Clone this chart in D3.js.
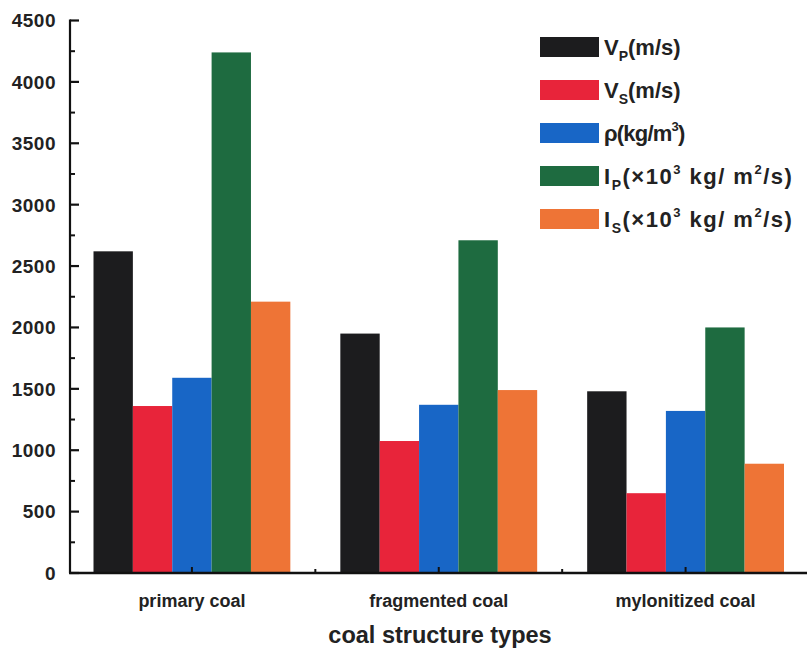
<!DOCTYPE html>
<html>
<head>
<meta charset="utf-8">
<script src="https://cdn.jsdelivr.net/npm/d3@7"></script>
<style>
  html, body { margin: 0; padding: 0; background: #fff; }
  svg { display: block; font-family: "Liberation Sans", Arial, Helvetica, sans-serif; }
</style>
</head>
<body>
<svg id="chart" width="807" height="651"></svg>
<script>
const categories = ["primary coal", "fragmented coal", "mylonitized coal"];
const seriesKeys = ["Vp", "Vs", "rho", "Ip", "Is"];
const Vp  = [2620, 1950, 1480];
const Vs  = [1360, 1075, 650];
const rho = [1590, 1370, 1320];
const Ip  = [4240, 2710, 2000];
const Is  = [2210, 1490, 890];
const seriesValues = [Vp, Vs, rho, Ip, Is];
const seriesColors = ["#1c1c1e", "#e8243a", "#1866c6", "#1e6b40", "#ee7436"];
const yTicks = [0, 500, 1000, 1500, 2000, 2500, 3000, 3500, 4000, 4500];
const xTitle = "coal structure types";

const svg = d3.select("#chart");
const x0 = d3.scaleBand().domain(categories).range([68.5, 809]).padding(0);
const x1 = d3.scaleBand().domain(seriesKeys).range([25, x0.bandwidth() - 25]).padding(0);
const y = d3.scaleLinear().domain([0, 4500]).range([573, 20.5]);

// bars
const groups = svg.append("g").selectAll("g").data(categories).join("g")
  .attr("transform", d => `translate(${x0(d)},0)`);
groups.selectAll("rect")
  .data((c, ci) => seriesKeys.map((k, si) => ({k, si, v: seriesValues[si][ci]})))
  .join("rect")
  .attr("x", d => x1(d.k))
  .attr("width", x1.bandwidth())
  .attr("y", d => y(d.v))
  .attr("height", d => y(0) - y(d.v))
  .attr("fill", d => seriesColors[d.si]);

// y axis
const minorY = d3.range(250, 4500, 500);
const yAxis = svg.append("g").attr("transform", "translate(70,0)");
yAxis.append("line").attr("x1", 0).attr("x2", 0).attr("y1", y(4500) - 1).attr("y2", y(0))
  .attr("stroke", "#111").attr("stroke-width", 2.2);
yAxis.selectAll(".maj").data(yTicks).join("line")
  .attr("x1", 0).attr("x2", 9).attr("y1", d => y(d)).attr("y2", d => y(d))
  .attr("stroke", "#111").attr("stroke-width", 2.2);
yAxis.selectAll(".min").data(minorY).join("line")
  .attr("x1", 0).attr("x2", 5).attr("y1", d => y(d)).attr("y2", d => y(d))
  .attr("stroke", "#111").attr("stroke-width", 2);
yAxis.selectAll("text").data(yTicks).join("text")
  .attr("x", -14).attr("y", d => y(d)).attr("dy", "0.36em")
  .attr("text-anchor", "end").attr("font-size", 19).attr("font-weight", "bold")
  .attr("letter-spacing", 0.5)
  .attr("fill", "#222").text(d => d);

// x axis
const xAxis = svg.append("g");
xAxis.append("line").attr("x1", 69).attr("x2", 807).attr("y1", y(0)).attr("y2", y(0))
  .attr("stroke", "#111").attr("stroke-width", 2.5);
xAxis.selectAll(".maj").data(categories).join("line")
  .attr("x1", d => x0(d) + x0.bandwidth() / 2).attr("x2", d => x0(d) + x0.bandwidth() / 2)
  .attr("y1", y(0)).attr("y2", y(0) - 6).attr("stroke", "#111").attr("stroke-width", 2);
xAxis.selectAll(".min").data(categories.slice(1)).join("line")
  .attr("x1", d => x0(d)).attr("x2", d => x0(d))
  .attr("y1", y(0)).attr("y2", y(0) - 4).attr("stroke", "#111").attr("stroke-width", 2);
xAxis.selectAll("text").data(categories).join("text")
  .attr("x", d => x0(d) + x0.bandwidth() / 2).attr("y", 607)
  .attr("text-anchor", "middle").attr("font-size", 18).attr("font-weight", "bold")
  .attr("fill", "#222").text(d => d);
svg.append("text").attr("x", 440).attr("y", 643).attr("text-anchor", "middle")
  .attr("font-size", 23.5).attr("fill", "#222").attr("font-weight", "bold").text(xTitle);

// legend
const legendParts = [
  [["V", ""], ["P", "sub"], ["(m/s)", ""]],
  [["V", ""], ["S", "sub"], ["(m/s)", ""]],
  [["ρ(kg/m", ""], ["3", "sup"], [")", ""]],
  [["I", ""], ["P", "sub"], ["(×10", ""], ["3", "sup"], [" kg/ m", ""], ["2", "sup"], ["/s)", ""]],
  [["I", ""], ["S", "sub"], ["(×10", ""], ["3", "sup"], [" kg/ m", ""], ["2", "sup"], ["/s)", ""]]
];
const lg = svg.append("g");
const rowY = [47, 90, 133, 176, 219];
legendParts.forEach((parts, i) => {
  lg.append("rect").attr("x", 540).attr("y", rowY[i] - 10).attr("width", 59).attr("height", 20)
    .attr("fill", seriesColors[i]);
  const t = lg.append("text").attr("x", 604).attr("y", rowY[i] + 8)
    .attr("font-size", 22).attr("font-weight", "bold").attr("fill", "#222");
  if (i >= 3) t.attr("letter-spacing", 1.5);
  if (i === 2) t.attr("letter-spacing", -0.8);
  parts.forEach(([s, kind]) => {
    const ts = t.append("tspan").text(s);
    if (kind === "sub") ts.attr("font-size", 14).attr("dy", 6);
    else if (kind === "sup") ts.attr("font-size", 13).attr("dy", -10);
  });
  t.selectAll("tspan").each(function(d, j) {
    const kind = parts[j][1];
    const prev = j > 0 ? parts[j - 1][1] : "";
    if (kind === "" && prev === "sub") d3.select(this).attr("dy", -6);
    if (kind === "" && prev === "sup") d3.select(this).attr("dy", 10);
  });
});
</script>
</body>
</html>
